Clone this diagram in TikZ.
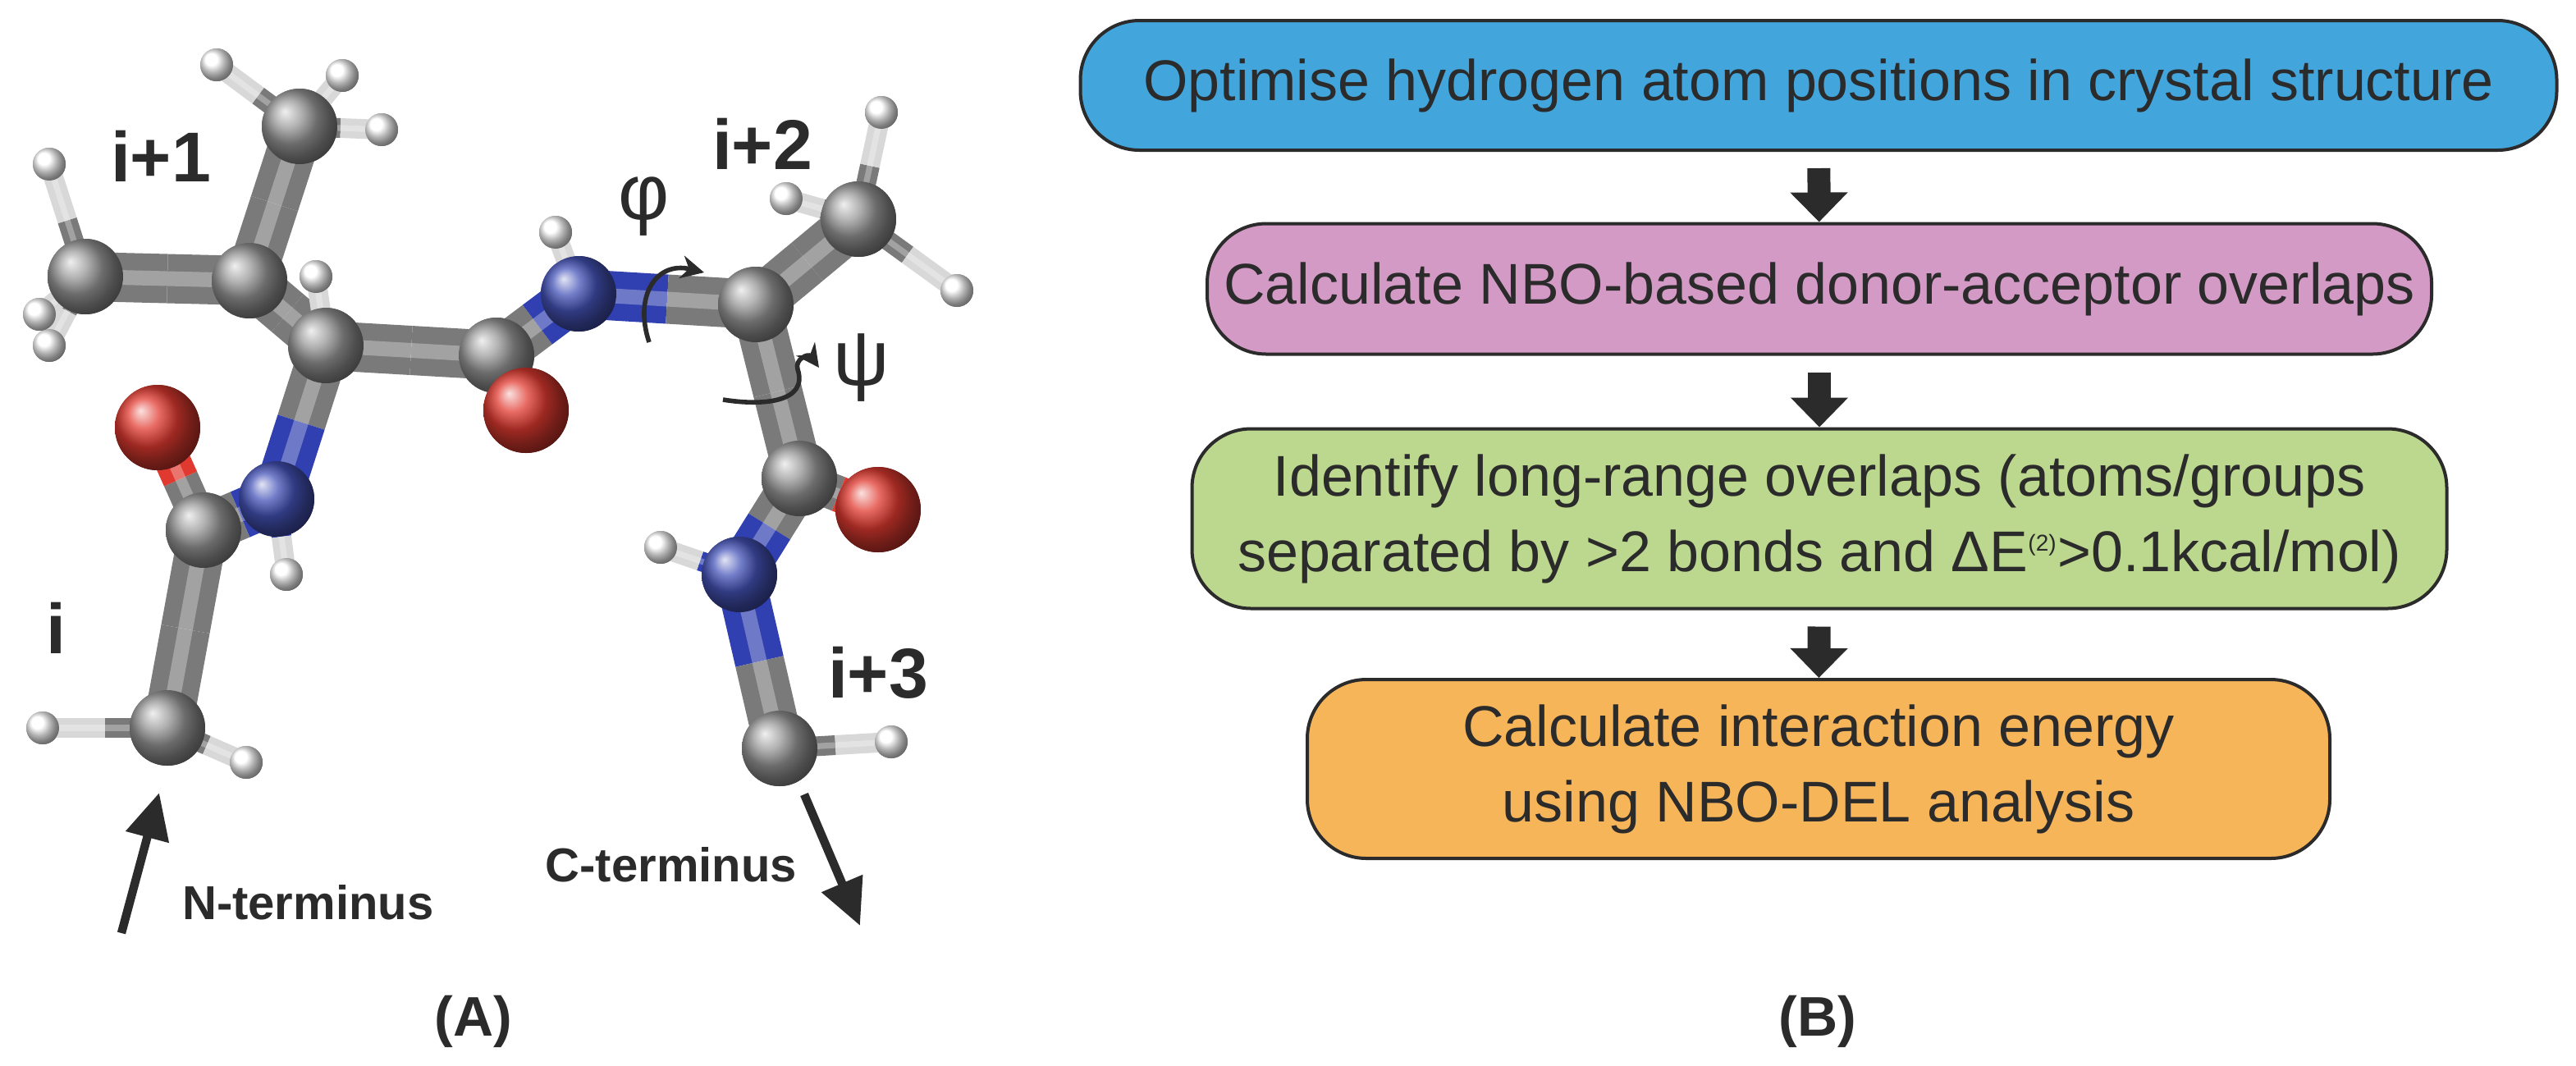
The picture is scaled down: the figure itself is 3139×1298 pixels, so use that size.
\documentclass[tikz,border=0pt]{standalone}
\usepackage{fontspec}
\setmainfont{Liberation Sans}
\usetikzlibrary{arrows.meta,calc}
\definecolor{txt}{HTML}{2B2B2B}
\definecolor{bA}{HTML}{42A5DC}
\definecolor{bB}{HTML}{D49AC6}
\definecolor{bC}{HTML}{BCD78E}
\definecolor{bD}{HTML}{F7B55A}
\definecolor{cg}{HTML}{7A7A7A}
\definecolor{nb}{HTML}{3040B0}
\definecolor{orr}{HTML}{E03A30}
\definecolor{hw}{HTML}{D8D8D8}
\newcommand{\mybond}[5]{%
  \draw[line width=#5pt,#3] (#1.center) -- ($(#1.center)!0.5!(#2.center)$);
  \draw[line width=#5pt,#4] ($(#1.center)!0.5!(#2.center)$) -- (#2.center);
  \draw[line width=0.3*#5pt,white,opacity=0.3] (#1.center) -- (#2.center);}
\tikzset{
  x=0.25pt,y=-0.25pt,
  cat/.style={circle,inner sep=0pt,minimum size=23pt,ball color=gray!80,draw=none},
  nat/.style={circle,inner sep=0pt,minimum size=23pt,ball color=nb!90,draw=none},
  oat/.style={circle,inner sep=0pt,minimum size=26pt,ball color=orr,draw=none},
  hat/.style={circle,inner sep=0pt,minimum size=10pt,ball color=white,draw=none},
  flow/.style={draw=txt,line width=1pt,rounded corners=18pt,text=txt,font=\fontsize{17.5}{23}\selectfont,align=center,inner sep=0pt},
  farrow/.style={-{Triangle[length=9pt,width=17pt]},line width=7pt,txt,shorten <=5pt},
  lbl/.style={text=txt,font=\bfseries\fontsize{21.5}{24}\selectfont},
  term/.style={text=txt,font=\bfseries\fontsize{14.5}{16}\selectfont},
  rot/.style={-{Stealth[length=7pt,width=7pt]},line width=1.4pt,txt},
  tarr/.style={-{Triangle[length=14pt,width=13pt]},line width=2.6pt,txt}
}
\begin{document}
\begin{tikzpicture}
\useasboundingbox[fill=white] (0,0) rectangle (3139,1298);
\path
 (304,342) node[cat] (C1) {}
 (104,337) node[cat] (C2) {}
 (365,154) node[cat] (C3) {}
 (397,421) node[cat] (C4) {}
 (605,433) node[cat] (C5) {}
 (641,500) node[oat] (O1) {}
 (705,358) node[nat] (N1) {}
 (677,283) node[hat] (H1) {}
 (921,371) node[cat] (C6) {}
 (1046,267) node[cat] (C7) {}
 (1074,137) node[hat] (H2) {}
 (958,242) node[hat] (H3) {}
 (1166,354) node[hat] (H4) {}
 (974,583) node[cat] (C8) {}
 (1070,621) node[oat] (O2) {}
 (901,700) node[nat] (N2) {}
 (805,667) node[hat] (H5) {}
 (950,912) node[cat] (C9) {}
 (1086,904) node[hat] (H6) {}
 (337,608) node[nat] (N0) {}
 (349,700) node[hat] (H7) {}
 (248,646) node[cat] (C10) {}
 (192,521) node[oat] (O0) {}
 (204,887) node[cat] (C11) {}
 (52,887) node[hat] (H8) {}
 (300,929) node[hat] (H9) {}
 (385,337) node[hat] (H10) {}
 (60,200) node[hat] (H11) {}
 (60,421) node[hat] (H12) {}
 (48,383) node[hat] (H13) {}
 (264,79) node[hat] (H14) {}
 (417,92) node[hat] (H15) {}
 (465,158) node[hat] (H16) {};
\mybond{C2}{C1}{cg}{cg}{15}
\mybond{C3}{C1}{cg}{cg}{15}
\mybond{C1}{C4}{cg}{cg}{15}
\mybond{C4}{C5}{cg}{cg}{15}
\mybond{C5}{O1}{cg}{orr}{11}
\mybond{C5}{N1}{cg}{nb}{15}
\mybond{N1}{C6}{nb}{cg}{15}
\mybond{C6}{C7}{cg}{cg}{15}
\mybond{C6}{C8}{cg}{cg}{15}
\mybond{C8}{O2}{cg}{orr}{11}
\mybond{C8}{N2}{cg}{nb}{15}
\mybond{N2}{C9}{nb}{cg}{15}
\mybond{C4}{N0}{cg}{nb}{15}
\mybond{N0}{C10}{nb}{cg}{15}
\mybond{C10}{O0}{cg}{orr}{11}
\mybond{C10}{C11}{cg}{cg}{15}
\mybond{N1}{H1}{nb}{hw}{6}
\mybond{C7}{H2}{cg}{hw}{6}
\mybond{C7}{H3}{cg}{hw}{6}
\mybond{C7}{H4}{cg}{hw}{6}
\mybond{N2}{H5}{nb}{hw}{6}
\mybond{C9}{H6}{cg}{hw}{6}
\mybond{N0}{H7}{nb}{hw}{6}
\mybond{C11}{H8}{cg}{hw}{6}
\mybond{C11}{H9}{cg}{hw}{6}
\mybond{C4}{H10}{cg}{hw}{6}
\mybond{C2}{H11}{cg}{hw}{6}
\mybond{C2}{H12}{cg}{hw}{6}
\mybond{C2}{H13}{cg}{hw}{6}
\mybond{C3}{H14}{cg}{hw}{6}
\mybond{C3}{H15}{cg}{hw}{6}
\mybond{C3}{H16}{cg}{hw}{6}
\foreach \a/\s in {C1/cat,C2/cat,C3/cat,C4/cat,C5/cat,C6/cat,C7/cat,C8/cat,C9/cat,C10/cat,C11/cat,N0/nat,N1/nat,N2/nat,O0/oat,O1/oat,O2/oat}
  \node[\s] at (\a) {};
\foreach \a in {H1,H2,H3,H4,H5,H6,H7,H8,H9,H10,H11,H12,H13,H14,H15,H16}
  \node[hat] at (\a) {};
\node[lbl] (li1) at (196,190) {i+1};
\node[lbl] (li2) at (929,175) {i+2};
\node[lbl] (li) at (68,765) {i};
\node[lbl] (li3) at (1070,820) {i+3};
\node[text=txt,font=\fontsize{24}{26}\selectfont] (phi) at (785,252) {φ};
\node[text=txt,font=\fontsize{24}{26}\selectfont] (psi) at (1050,448) {ψ};
\draw[rot] (791,417) .. controls (772,360) and (800,318) .. (858,332);
\draw[rot] (881,487) .. controls (930,495) and (985,490) .. (972,450) .. controls (968,438) and (985,430) .. (998,448);
\coordinate (nstart) at (148,1137);
\coordinate (nend) at (194,966);
\draw[tarr] (nstart) -- (nend);
\node[term,anchor=west] (nt) at (208,1100) {N-terminus};
\coordinate (cstart) at (980,968);
\coordinate (cend) at (1048,1128);
\draw[tarr] (cstart) -- (cend);
\node[term,anchor=east] (ct) at (985,1054) {C-terminus};
\node[text=txt,font=\bfseries\fontsize{17}{20}\selectfont] (A) at (577,1245) {(A)};
\node[flow,fill=bA,minimum width=449.75pt,minimum height=39.5pt] (b1) at (2216,104) {Optimise hydrogen atom positions in crystal structure};
\node[flow,fill=bB,minimum width=373pt,minimum height=39.75pt] (b2) at (2217,352) {Calculate NBO-based donor-acceptor overlaps};
\node[flow,fill=bC,minimum width=382.25pt,minimum height=54.75pt] (b3) at (2217,632) {Identify long-range overlaps (atoms/groups\\separated by >2 bonds and ΔE\textsuperscript{\fontsize{7}{8}\selectfont(2)}>0.1kcal/mol)};
\node[flow,fill=bD,minimum width=311.5pt,minimum height=54.5pt] (b4) at (2216,937) {Calculate interaction energy\\using NBO-DEL analysis};
\draw[farrow] (b1) -- (b2);
\draw[farrow] (b2) -- (b3);
\draw[farrow] (b3) -- (b4);
\node[text=txt,font=\bfseries\fontsize{17}{20}\selectfont] (B) at (2215,1245) {(B)};
\end{tikzpicture}
\end{document}
